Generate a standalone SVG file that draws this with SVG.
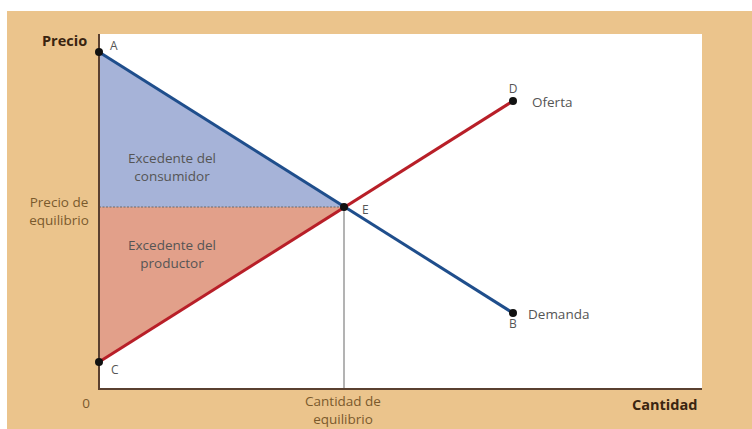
<svg xmlns="http://www.w3.org/2000/svg" width="752" height="429" viewBox="0 0 752 429">
  <style>
    .lbl { font-family: "Open Sans", "Liberation Sans", sans-serif; font-size: 13.5px; fill: #555555; }
    .axlbl { font-family: "Open Sans", "Liberation Sans", sans-serif; font-size: 13.5px; fill: #7a5a2c; }
    .bold { font-family: "Open Sans", "Liberation Sans", sans-serif; font-size: 14.5px; font-weight: bold; fill: #3a2410; }
    .pt { font-family: "Open Sans", "Liberation Sans", sans-serif; font-size: 12px; fill: #555555; }
    .dot { fill: #111111; }
  </style>

  <!-- page and frame -->
  <rect x="0" y="0" width="752" height="429" fill="#ffffff"/>
  <rect x="7" y="11" width="745" height="418" fill="#ebc48c"/>
  <rect x="99" y="34" width="603" height="355" fill="#ffffff"/>

  <!-- surplus areas -->
  <g id="consumer-surplus">
    <polygon points="99,52 344,207 99,207" fill="#a6b3d8"/>
    <text class="lbl" x="172" y="163" text-anchor="middle">Excedente del</text>
    <text class="lbl" x="172" y="181" text-anchor="middle">consumidor</text>
  </g>
  <g id="producer-surplus">
    <polygon points="99,207 344,207 99,362" fill="#e2a08a"/>
    <text class="lbl" x="172" y="250" text-anchor="middle">Excedente del</text>
    <text class="lbl" x="172" y="268" text-anchor="middle">productor</text>
  </g>

  <!-- connectors: curves, guides and axes -->
  <g id="connectors">
    <line x1="99" y1="207" x2="344" y2="207" stroke="#6a6a6a" stroke-width="1.2" stroke-dasharray="2,1.5"/>
    <line x1="344" y1="207" x2="344" y2="389" stroke="#9a9a9a" stroke-width="1.5"/>
    <line x1="99" y1="52" x2="513" y2="313" stroke="#1f4e8c" stroke-width="3"/>
    <line x1="99" y1="362" x2="513" y2="101" stroke="#b81f28" stroke-width="3"/>
    <line x1="99" y1="34" x2="99" y2="389" stroke="#5a4030" stroke-width="2"/>
    <line x1="98" y1="389" x2="702" y2="389" stroke="#5a4030" stroke-width="2"/>
  </g>

  <!-- points -->
  <g id="point-A">
    <circle class="dot" cx="99" cy="52" r="4"/>
    <text class="pt" x="110" y="50">A</text>
  </g>
  <g id="point-C">
    <circle class="dot" cx="99" cy="362" r="4"/>
    <text class="pt" x="111" y="374">C</text>
  </g>
  <g id="point-E">
    <circle class="dot" cx="344" cy="207" r="4"/>
    <text class="pt" x="362" y="214">E</text>
  </g>
  <g id="point-D">
    <circle class="dot" cx="513" cy="101" r="4"/>
    <text class="pt" x="513" y="93" text-anchor="middle">D</text>
    <text class="lbl" x="532" y="107">Oferta</text>
  </g>
  <g id="point-B">
    <circle class="dot" cx="513" cy="313" r="4"/>
    <text class="pt" x="513" y="328" text-anchor="middle">B</text>
    <text class="lbl" x="528" y="319">Demanda</text>
  </g>

  <!-- axis labels -->
  <g id="axis-labels">
    <text class="bold" x="42" y="46">Precio</text>
    <text class="axlbl" x="59" y="207" text-anchor="middle">Precio de</text>
    <text class="axlbl" x="59" y="225" text-anchor="middle">equilibrio</text>
    <text class="axlbl" x="86" y="408" text-anchor="middle">0</text>
    <text class="axlbl" x="343" y="406" text-anchor="middle">Cantidad de</text>
    <text class="axlbl" x="343" y="424" text-anchor="middle">equilibrio</text>
    <text class="bold" x="632" y="410">Cantidad</text>
  </g>
</svg>
